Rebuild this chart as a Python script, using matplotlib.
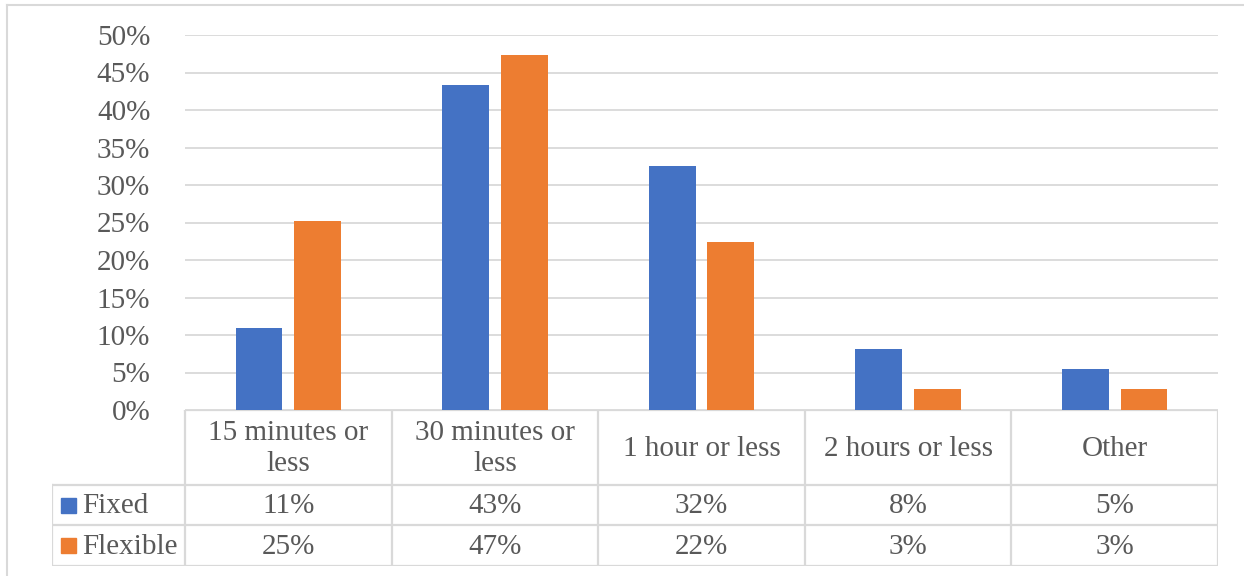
import matplotlib.pyplot as plt
import matplotlib
from matplotlib.lines import Line2D
from matplotlib.patches import Rectangle
import numpy as np

categories = ["15 minutes or\nless", "30 minutes or\nless", "1 hour or less", "2 hours or less", "Other"]
series = ["Fixed", "Flexible"]
fixed = [10.9, 43.3, 32.5, 8.1, 5.5]
flexible = [25.2, 47.3, 22.4, 2.8, 2.8]
fixed_lbl = ["11%", "43%", "32%", "8%", "5%"]
flexible_lbl = ["25%", "47%", "22%", "3%", "3%"]
yticks = list(range(0, 55, 5))

colors = ["#4472C4", "#ED7D31"]
grid_c = "#D9D9D9"
text_c = "#595959"

matplotlib.rcParams["font.family"] = ["Liberation Serif", "DejaVu Serif"]
matplotlib.rcParams["font.size"] = 21

W, H = 1244, 576
fig = plt.figure(figsize=(W / 100, H / 100), dpi=100)

def box(x0, y0, x1, y1):
    # pixel box (top-left origin) -> figure fraction rect
    return [x0 / W, 1 - y1 / H, (x1 - x0) / W, (y1 - y0) / H]

# main bar axes
L, R, T, B = 185, 1218, 35, 410
ax = fig.add_axes(box(L, T, R, B))
x = np.arange(len(categories))
bw = 0.227
off = 0.142
ax.bar(x - off, fixed, bw, color=colors[0], zorder=3)
ax.bar(x + off, flexible, bw, color=colors[1], zorder=3)
ax.set_xlim(-0.5, len(categories) - 0.5)
ax.set_ylim(0, 50)
ax.set_yticks(yticks)
ax.set_yticklabels(["%d%%" % t for t in yticks], color=text_c)
ax.tick_params(axis="y", length=0, pad=25)
ax.set_xticks([])
for s in ax.spines.values():
    s.set_visible(False)
ax.yaxis.grid(True, color=grid_c, linewidth=1.3, zorder=0)
ax.set_axisbelow(True)

# data table below
TL, TB = 52, 566
r1, r2 = 485, 525
cw = (R - L) / len(categories)
tab = fig.add_axes(box(TL, B, R, TB))
tab.set_xlim(TL, R)
tab.set_ylim(TB, B)
tab.axis("off")
lw = 1.6
# horizontal lines
tab.add_line(Line2D([L, R], [B, B], color=grid_c, lw=lw))
for yy in (r1, r2, TB):
    tab.add_line(Line2D([TL, R], [yy, yy], color=grid_c, lw=lw))
# vertical lines
tab.add_line(Line2D([TL, TL], [r1, TB], color=grid_c, lw=lw))
for i in range(len(categories) + 1):
    xx = L + i * cw
    tab.add_line(Line2D([xx, xx], [B, TB], color=grid_c, lw=lw))

for i, c in enumerate(categories):
    cx = L + (i + 0.5) * cw
    tab.text(cx, (B + r1) / 2 + 1, c, ha="center", va="center", color=text_c,
             linespacing=1.25)
    tab.text(cx, (r1 + r2) / 2 + 1, fixed_lbl[i], ha="center", va="center", color=text_c)
    tab.text(cx, (r2 + TB) / 2 + 1, flexible_lbl[i], ha="center", va="center", color=text_c)

for j, (name, yc) in enumerate(zip(series, [(r1 + r2) / 2, (r2 + TB) / 2])):
    tab.add_patch(Rectangle((61, yc - 7.5), 15, 15, color=colors[j], clip_on=False))
    tab.text(82, yc + 1, name, ha="left", va="center", color=text_c)

# outer chart border (partially visible)
fig.add_artist(Line2D([7 / W, 7 / W], [0, 1 - 5 / H], color=grid_c, lw=1.5))
fig.add_artist(Line2D([7 / W, 1], [1 - 5 / H, 1 - 5 / H], color=grid_c, lw=1.5))

fig.savefig("out.png", dpi=100)
